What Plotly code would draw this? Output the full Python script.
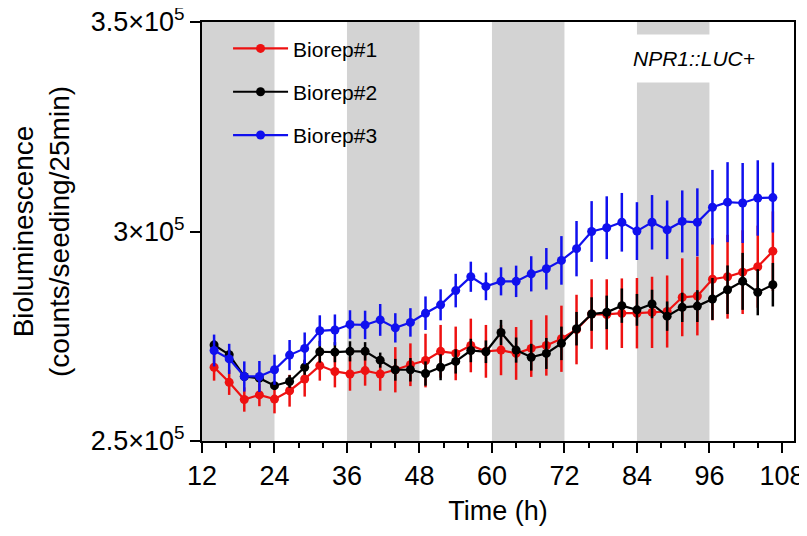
import plotly.graph_objects as go

# Time points (h)
time_h = [14, 16.5, 19, 21.5, 24, 26.5, 29, 31.5, 34, 36.5,
          39, 41.5, 44, 46.5, 49, 51.5, 54, 56.5, 59, 61.5,
          64, 66.5, 69, 71.5, 74, 76.5, 79, 81.5, 84, 86.5,
          89, 91.5, 94, 96.5, 99, 101.5, 104, 106.5]

# Biorep#1 (red)
rep1_mean = [267600, 264000, 259900, 261000, 260000, 262000, 264800, 268000, 266600, 266000,
             266800, 266000, 267000, 268200, 269200, 271400, 270900, 272800, 271400, 271700,
             270900, 272100, 272800, 274400, 276600, 280300, 280200, 280500, 280500, 280700,
             280900, 284300, 284600, 288600, 289200, 290300, 291600, 295300]
rep1_err = [3200, 3000, 2900, 2700, 3400, 3800, 4200, 3600, 3800, 4000,
            3600, 4000, 5400, 5100, 6400, 6300, 6400, 6400, 6300, 6000,
            6300, 6800, 7200, 7900, 8300, 8300, 8400, 8300, 8400, 8500,
            8600, 9300, 9400, 9800, 10000, 10000, 9800, 9500]

# Biorep#2 (black)
rep2_mean = [272900, 270600, 265400, 265000, 263200, 264200, 267600, 271300, 271200, 271400,
             271400, 269300, 267000, 267000, 266100, 267600, 269000, 271600, 271300, 275900,
             271700, 270000, 270900, 273300, 276800, 280300, 280700, 282300, 281300, 282700,
             279800, 281900, 282200, 283900, 286100, 288100, 285500, 287300]
rep2_err = [1200, 1200, 900, 900, 1000, 1500, 1800, 2600, 2400, 2400,
            2200, 1800, 2600, 2800, 2900, 3100, 2900, 2800, 2700, 3000,
            3000, 3200, 3700, 4000, 4000, 4000, 4000, 4100, 3800, 3400,
            3500, 3500, 3800, 5000, 5800, 6800, 5500, 5200]

# Biorep#3 (blue)
rep3_mean = [271600, 269600, 265400, 265400, 267000, 270500, 272100, 276300, 276500, 277800,
             277700, 278900, 277000, 278300, 280500, 282500, 285900, 289200, 286900, 288100,
             288100, 289900, 291100, 293100, 295900, 300000, 300900, 302200, 300100, 302200,
             300400, 302400, 302200, 305800, 307000, 306800, 308000, 308100]
rep3_err = [3800, 3600, 3600, 3700, 3600, 3600, 3800, 3700, 3700, 3400,
            3400, 3800, 3500, 3400, 4000, 3700, 4000, 3600, 3300, 3350,
            3750, 4200, 4950, 5800, 6600, 7250, 7500, 7000, 6900, 6500,
            7000, 7400, 8100, 8900, 9550, 9550, 9000, 8350]

series_names = ["Biorep#1", "Biorep#2", "Biorep#3"]
series_colors = ["#ee1111", "#000000", "#1010ee"]

# Dark periods (h)
dark_start = [12, 36, 60, 84]
dark_end = [24, 48, 72, 96]

x_tickvals = [12, 24, 36, 48, 60, 72, 84, 96, 108]
y_tickvals = [250000, 300000, 350000]
y_ticktext = ["2.5×10<sup>5</sup>", "3×10<sup>5</sup>", "3.5×10<sup>5</sup>"]

FONT = "Arial, Liberation Sans, sans-serif"

fig = go.Figure()
for name, col, m, e in zip(series_names, series_colors,
                           [rep1_mean, rep2_mean, rep3_mean],
                           [rep1_err, rep2_err, rep3_err]):
    fig.add_trace(go.Scatter(
        x=time_h, y=m, name=name, mode="lines+markers",
        line=dict(color=col, width=2.2),
        marker=dict(color=col, size=9),
        error_y=dict(type="data", array=e, visible=True, color=col,
                     thickness=2.5, width=0),
        legendgroup=name,
    ))

for s, e in zip(dark_start, dark_end):
    fig.add_shape(type="rect", xref="x", yref="paper", x0=s, x1=e, y0=0, y1=1,
                  fillcolor="#d3d3d3", line=dict(width=0), layer="below")

fig.add_annotation(xref="x", yref="paper", x=93.5, y=0.912, text="<i>NPR1::LUC+</i>",
                   showarrow=False, font=dict(family=FONT, size=21, color="black"),
                   bgcolor="white", width=130, height=45, xanchor="center", yanchor="middle")

fig.update_layout(
    width=807, height=536,
    margin=dict(l=194, r=21, t=14, b=103),
    plot_bgcolor="white", paper_bgcolor="white",
    font=dict(family=FONT, size=27, color="black"),
    showlegend=True,
    legend=dict(x=0.044, y=0.985, xanchor="left", yanchor="top",
                bgcolor="rgba(0,0,0,0)", font=dict(size=21),
                traceorder="grouped", tracegroupgap=13, itemwidth=55),
    xaxis=dict(range=[12, 110], tickvals=x_tickvals, ticks="outside", ticklen=10,
               tickwidth=2, tickcolor="black", showline=True, linecolor="black",
               linewidth=2, mirror=True, showgrid=False, zeroline=False,
               automargin=False, tickfont=dict(size=27), ticklabeloverflow="allow",
               minor=dict(dtick=4, tick0=12, ticks="outside", ticklen=5, tickwidth=2,
                          tickcolor="black", showgrid=False),
               title=dict(text="Time (h)", font=dict(size=27), standoff=11)),
    yaxis=dict(range=[250000, 350000], tickvals=y_tickvals, ticktext=y_ticktext,
               ticks="outside", ticklen=10, tickwidth=2, tickcolor="black",
               showline=True, linecolor="black", linewidth=2, mirror=True,
               showgrid=False, zeroline=False, automargin=False,
               tickfont=dict(size=27), ticklabeloverflow="allow",
               title=dict(text="Bioluminescence<br>(counts/seeding/25min)",
                          font=dict(size=28), standoff=16)),
)

fig.write_html("out.html")
